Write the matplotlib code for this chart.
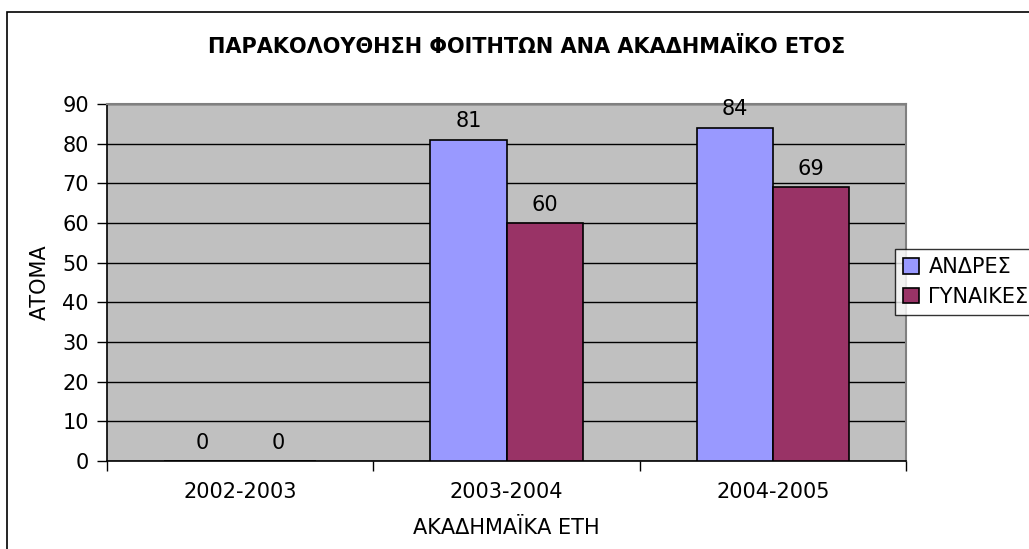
import matplotlib.pyplot as plt
import numpy as np
from matplotlib.patches import Rectangle

# Chart data
years = ['2002-2003', '2003-2004', '2004-2005']
men = [0, 81, 84]
women = [0, 60, 69]
series_names = ['ΑΝΔΡΕΣ', 'ΓΥΝΑΙΚΕΣ']

plt.rcParams['font.family'] = ['DejaVu Sans']
fs = 15

fig = plt.figure(figsize=(10.29, 5.49), dpi=100)
ax = fig.add_axes([107 / 1029, 1 - 461 / 549, (906 - 107) / 1029, (461 - 104) / 549])

# outer chart frame
fig.patches.append(Rectangle((7 / 1029, -0.1), 1.2, 1 - 12 / 549 + 0.1,
                             transform=fig.transFigure, fill=False,
                             edgecolor='black', linewidth=1.2))

x = np.arange(len(years))
w = 1 / 3.5
b1 = ax.bar(x - w / 2, men, w, color='#9999FF', edgecolor='black', linewidth=1.2,
            label=series_names[0], zorder=3)
b2 = ax.bar(x + w / 2, women, w, color='#993366', edgecolor='black', linewidth=1.2,
            label=series_names[1], zorder=3)

for bars in (b1, b2):
    ax.bar_label(bars, padding=6, fontsize=fs)

ax.set_facecolor('#C0C0C0')
ax.set_xlim(-0.5, 2.5)
ax.set_ylim(0, 90)
ax.set_yticks(range(0, 91, 10))
ax.yaxis.grid(True, color='black', linewidth=1)
ax.set_axisbelow(True)

ax.set_xticks(x)
ax.set_xticklabels(years, fontsize=fs)
ax.tick_params(axis='x', length=0, pad=15)
ax.set_xticks([-0.5, 0.5, 1.5, 2.5], minor=True)
ax.tick_params(axis='x', which='minor', length=7, width=1, direction='out')
ax.tick_params(axis='y', length=7, width=1, labelsize=fs, pad=6)

for s in ('top', 'right'):
    ax.spines[s].set_color('#808080')
    ax.spines[s].set_linewidth(1.5)
for s in ('left', 'bottom'):
    ax.spines[s].set_color('black')
    ax.spines[s].set_linewidth(1.2)

ax.set_ylabel('ΑΤΟΜΑ', fontsize=fs, labelpad=9)
ax.set_xlabel('ΑΚΑΔΗΜΑΪΚΑ ΕΤΗ', fontsize=fs, labelpad=12)

fig.text(527 / 1029, 1 - 47 / 549, 'ΠΑΡΑΚΟΛΟΥΘΗΣΗ ΦΟΙΤΗΤΩΝ ΑΝΑ ΑΚΑΔΗΜΑΪΚΟ ΕΤΟΣ',
         ha='center', va='center', fontsize=15, fontweight='bold')

leg = fig.legend(loc='upper left', bbox_to_anchor=(895 / 1029, 1 - 249 / 549),
                 fontsize=fs, frameon=True, fancybox=False, edgecolor='black',
                 handlelength=0.75, handleheight=0.75, handletextpad=0.45,
                 borderpad=0.4, labelspacing=0.45, borderaxespad=0)
leg.get_frame().set_linewidth(1)

fig.savefig('out.png', dpi=100)
